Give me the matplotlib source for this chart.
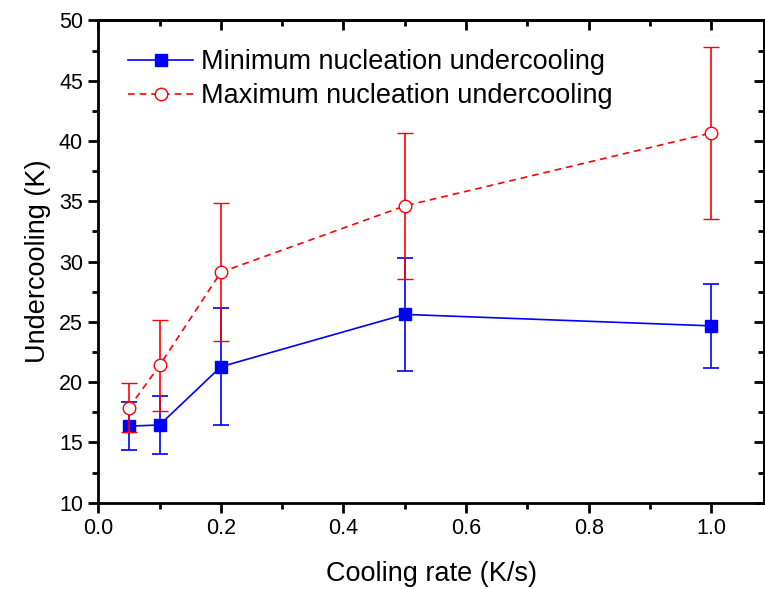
import matplotlib
matplotlib.use("Agg")
import matplotlib.pyplot as plt
from matplotlib.ticker import MultipleLocator, FormatStrFormatter
from matplotlib.lines import Line2D

plt.rcParams['font.family'] = ['Liberation Sans', 'DejaVu Sans']

rate = [0.05, 0.1, 0.2, 0.5, 1.0]
min_under = [16.35, 16.45, 21.28, 25.62, 24.67]
min_err = [2.0, 2.4, 4.85, 4.72, 3.5]
max_under = [17.88, 21.39, 29.12, 34.62, 40.67]
max_err = [2.05, 3.75, 5.73, 6.03, 7.12]

labels = ['Minimum nucleation undercooling', 'Maximum nucleation undercooling']
blue = '#0000ff'
red = '#ff0000'

fig = plt.figure(figsize=(7.65, 5.89), dpi=100)
ax = fig.add_axes([0.1285, 0.1465, 0.8702, 0.8187])

ax.errorbar(rate, min_under, yerr=min_err, color=blue, marker='s', ms=8.5,
            lw=1.2, elinewidth=1.2, capsize=6, capthick=1.2, zorder=3)
ax.errorbar(rate, max_under, yerr=max_err, color=red, marker='o', ms=9,
            mfc='white', mec=red, mew=1.0, ls=(0, (4, 3)),
            lw=1.2, elinewidth=1.2, capsize=6, capthick=1.2, zorder=4)

ax.set_xlim(0, 1.086)
ax.set_ylim(10, 50)
ax.xaxis.set_major_locator(MultipleLocator(0.2))
ax.xaxis.set_minor_locator(MultipleLocator(0.1))
ax.yaxis.set_major_locator(MultipleLocator(5))
ax.yaxis.set_minor_locator(MultipleLocator(2.5))
ax.xaxis.set_major_formatter(FormatStrFormatter('%.1f'))

for s in ax.spines.values():
    s.set_linewidth(2.0)

ax.tick_params(axis='both', which='major', direction='out', length=7, width=2,
               labelsize=15.5, pad=4)
ax.tick_params(axis='both', which='minor', direction='out', length=4, width=2)

# top/right ticks point inward
sec_x = ax.secondary_xaxis('top')
sec_x.xaxis.set_major_locator(MultipleLocator(0.2))
sec_x.xaxis.set_minor_locator(MultipleLocator(0.1))
sec_x.tick_params(which='major', direction='in', length=7, width=2, labeltop=False)
sec_x.tick_params(which='minor', direction='in', length=4, width=2)
sec_x.spines['top'].set_linewidth(2.0)
sec_y = ax.secondary_yaxis('right')
sec_y.yaxis.set_major_locator(MultipleLocator(5))
sec_y.yaxis.set_minor_locator(MultipleLocator(2.5))
sec_y.tick_params(which='major', direction='in', length=7, width=2, labelright=False)
sec_y.tick_params(which='minor', direction='in', length=4, width=2)
sec_y.spines['right'].set_linewidth(2.0)

ax.set_xlabel('Cooling rate (K/s)', fontsize=19.5, labelpad=16)
ax.set_ylabel('Undercooling (K)', fontsize=19.5, labelpad=6)

handles = [
    Line2D([], [], color=blue, marker='s', ms=8.5, lw=1.2),
    Line2D([], [], color=red, marker='o', ms=9, mfc='white', mec=red,
           mew=1.0, lw=1.2, ls=(0, (4, 3))),
]
ax.legend(handles, labels, loc='upper left', bbox_to_anchor=(0.045, 0.94),
          frameon=False, fontsize=19.5, handlelength=2.4, handletextpad=0.3,
          labelspacing=0.28, borderaxespad=0, borderpad=0)

fig.savefig('out.png', dpi=100)
